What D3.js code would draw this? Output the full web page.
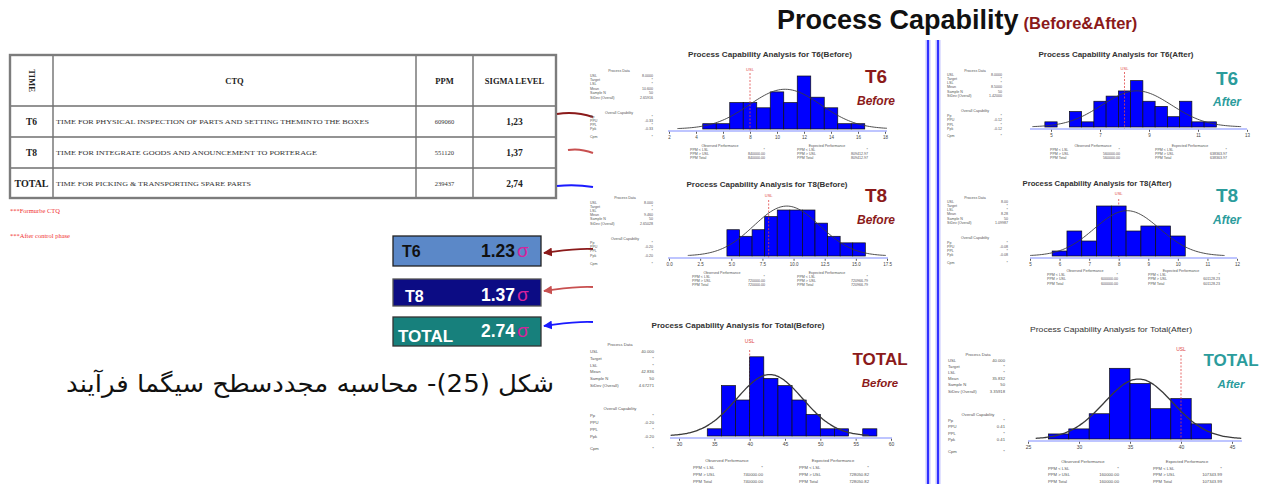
<!DOCTYPE html>
<html>
<head>
<meta charset="utf-8">
<script src="https://cdn.jsdelivr.net/npm/d3@7"></script>
<style>
  body { margin: 0; background: #fff; }
  svg { display: block; }
</style>
</head>
<body>
<svg id="chart" width="1269" height="484"></svg>
<script>
// ---------- table data
const tableIds = ["T6", "T8", "TOTAL"];
const tableCtq = [
  "TIME FOR PHYSICAL INSPECTION OF PARTS AND SETTING THEMINTO THE BOXES",
  "TIME FOR INTEGRATE GOODS AND ANOUNCEMENT TO PORTERAGE",
  "TIME FOR PICKING & TRANSPORTING SPARE PARTS"
];
const tablePpm = ["609060", "551120", "239437"];
const tableSigma = ["1,23", "1,37", "2,74"];
const tableNotes = ["***Formurbe CTQ", "***After control phase"];
const boxSigma = ["1.23", "1.37", "2.74"];

// ---------- histogram data (counts per bin, [first bin start, bin width])
const t6BeforeCounts = [1, 1, 5, 5, 4, 7, 5, 10, 6, 4, 1, 1];
const t6BeforeBins = [4.5, 1];
const t6BeforeTicks = [2, 4, 6, 8, 10, 12, 14, 16, 18];
const t6BeforeStats = [10.6, 2.66, 8];           // mean, sd, USL

const t8BeforeCounts = [4, 3, 4, 6, 7, 7, 7, 5, 3, 2, 2];
const t8BeforeBins = [4.65, 1.01];
const t8BeforeTicks = [0, 2.5, 5, 7.5, 10, 12.5, 15, 17.5];
const t8BeforeStats = [9.46, 2.65, 8];

const totalBeforeCounts = [1, 7, 5, 11, 8, 7, 5, 3, 1, 1, 0, 1];
const totalBeforeBins = [34, 2];
const totalBeforeTicks = [30, 35, 40, 45, 50, 55, 60];
const totalBeforeStats = [42.836, 4.67271, 40];

const t6AfterCounts = [1, 0, 3, 1, 5, 6, 7, 9, 5, 4, 2, 5, 1, 1];
const t6AfterBins = [4.75, 0.5];
const t6AfterTicks = [5, 7, 9, 11, 13];
const t6AfterStats = [8.5, 1.42, 8];

const t8AfterCounts = [1, 5, 3, 10, 10, 5, 6, 6, 4];
const t8AfterBins = [5.75, 0.5];
const t8AfterTicks = [5, 6, 7, 8, 9, 10, 11, 12];
const t8AfterStats = [8.28, 1.1, 8];

const totalAfterCounts = [1, 2, 5, 14, 11, 6, 8, 3];
const totalAfterBins = [27, 2];
const totalAfterTicks = [25, 30, 35, 40, 45];
const totalAfterStats = [35.832, 3.35918, 40];

// ---------- side-panel texts
const processLabels = ["USL", "Target", "LSL", "Mean", "Sample N", "StDev (Overall)"];
const capLabels = ["Pp", "PPU", "PPL", "Ppk"];
const perfLabels = ["PPM < LSL", "PPM > USL", "PPM Total"];

const t6BeforeProcess = ["8.0000", "*", "*", "10.600", "50", "2.65916"];
const t6BeforeCap = ["*", "-0.33", "*", "-0.33"];
const t6BeforeObs = ["*", "840000.00", "840000.00"];
const t6BeforeExp = ["*", "809412.97", "809412.97"];

const t8BeforeProcess = ["8.000", "*", "*", "9.460", "50", "2.65028"];
const t8BeforeCap = ["*", "-0.20", "*", "-0.20"];
const t8BeforeObs = ["*", "720000.00", "720000.00"];
const t8BeforeExp = ["*", "720966.79", "720966.79"];

const totalBeforeProcess = ["40.000", "*", "*", "42.836", "50", "4.67271"];
const totalBeforeCap = ["*", "-0.20", "*", "-0.20"];
const totalBeforeObs = ["*", "740000.00", "740000.00"];
const totalBeforeExp = ["*", "728050.82", "728050.82"];

const t6AfterProcess = ["8.0000", "*", "*", "8.5000", "50", "1.42000"];
const t6AfterCap = ["*", "-0.12", "*", "-0.12"];
const t6AfterObs = ["*", "560000.00", "560000.00"];
const t6AfterExp = ["*", "638363.97", "638363.97"];

const t8AfterProcess = ["8.00", "*", "*", "8.28", "50", "1.09987"];
const t8AfterCap = ["*", "-0.08", "*", "-0.08"];
const t8AfterObs = ["*", "600000.00", "600000.00"];
const t8AfterExp = ["*", "601128.23", "601128.23"];

const totalAfterProcess = ["40.000", "*", "*", "35.832", "50", "3.35918"];
const totalAfterCap = ["*", "0.41", "*", "0.41"];
const totalAfterObs = ["*", "160000.00", "160000.00"];
const totalAfterExp = ["*", "107343.99", "107343.99"];

const W = 1269, H = 484;
const SANS = "'Liberation Sans', Arial, sans-serif";
const SERIF = "'Liberation Serif', 'Times New Roman', serif";
const svg = d3.select("#chart");
svg.append("rect").attr("width", W).attr("height", H).attr("fill", "#fff");

// ---------- main title
const head = svg.append("text").attr("x", 777).attr("y", 29).attr("font-family", SANS).attr("font-weight", "bold");
head.append("tspan").attr("font-size", 27).attr("fill", "#111").text("Process Capability");
head.append("tspan").attr("dx", 5).attr("font-size", 16.5).attr("fill", "#8b1a1a").text("(Before&After)");

// ---------- table
const colX = [10, 53, 416, 473, 556];
const rowY = [55, 106, 137, 168, 198];
const tbl = svg.append("g");
tbl.selectAll("line.v").data(colX.slice(1, 4)).join("line")
  .attr("x1", d => d).attr("x2", d => d).attr("y1", rowY[0]).attr("y2", rowY[4])
  .attr("stroke", "#6f6f6f").attr("stroke-width", 1.4);
tbl.selectAll("line.h").data(rowY.slice(1, 4)).join("line")
  .attr("x1", colX[0]).attr("x2", colX[4]).attr("y1", d => d).attr("y2", d => d)
  .attr("stroke", "#6f6f6f").attr("stroke-width", 1.4);
tbl.append("rect").attr("x", colX[0]).attr("y", rowY[0])
  .attr("width", colX[4] - colX[0]).attr("height", rowY[4] - rowY[0])
  .attr("fill", "none").attr("stroke", "#7c7c7c").attr("stroke-width", 2.4);

const hdrY = (rowY[0] + rowY[1]) / 2;
tbl.append("text").attr("transform", `translate(${(colX[0] + colX[1]) / 2 - 3},${hdrY}) rotate(90)`)
  .attr("text-anchor", "middle").attr("font-family", SERIF).attr("font-weight", "bold")
  .attr("font-size", 8.5).attr("fill", "#222").text("TIME");
[["CTQ", 1], ["PPM", 2], ["SIGMA LEVEL", 3]].forEach(([t, i]) => {
  tbl.append("text").attr("x", (colX[i] + colX[i + 1]) / 2).attr("y", hdrY + 3)
    .attr("text-anchor", "middle").attr("font-family", SERIF).attr("font-weight", "bold")
    .attr("font-size", 8.5).attr("fill", "#222").text(t);
});
const rows = tbl.selectAll("g.row").data(tableIds).join("g")
  .attr("transform", (d, i) => `translate(0,${(rowY[i + 1] + rowY[i + 2]) / 2})`);
rows.append("text").attr("x", (colX[0] + colX[1]) / 2).attr("y", 3.5).attr("text-anchor", "middle")
  .attr("font-family", SERIF).attr("font-weight", "bold")
  .attr("font-size", d => d === "TOTAL" ? 10 : 9.5).attr("fill", "#222").text(d => d);
const ctqWidths = [313, 261, 195];
rows.append("text").attr("x", colX[1] + 3).attr("y", 2.5).attr("font-family", SERIF)
  .attr("font-size", 7).attr("fill", "#333")
  .attr("textLength", (d, i) => ctqWidths[i]).attr("lengthAdjust", "spacingAndGlyphs")
  .text((d, i) => tableCtq[i]);
rows.append("text").attr("x", (colX[2] + colX[3]) / 2).attr("y", 2.5).attr("text-anchor", "middle")
  .attr("font-family", SERIF).attr("font-size", 6.5).attr("fill", "#333").text((d, i) => tablePpm[i]);
rows.append("text").attr("x", (colX[3] + colX[4]) / 2).attr("y", 3.5).attr("text-anchor", "middle")
  .attr("font-family", SERIF).attr("font-weight", "bold").attr("font-size", 9.5).attr("fill", "#222")
  .text((d, i) => tableSigma[i]);

svg.selectAll("text.note").data(tableNotes).join("text")
  .attr("x", 10).attr("y", (d, i) => 213 + i * 25).attr("font-family", SERIF)
  .attr("font-size", 6.5).attr("fill", "#f03030").text(d => d);

// ---------- connectors from the table
const tblLinks = [
  {d: "M557,114 Q575,111 593,117", c: "#8b1a1a"},
  {d: "M568,150 Q580,148 593,153", c: "#c85050"},
  {d: "M557,186 Q575,184 593,187", c: "#1a1aff"}
];
svg.selectAll("path.tl").data(tblLinks).join("path")
  .attr("d", d => d.d).attr("fill", "none").attr("stroke", d => d.c).attr("stroke-width", 2);

// ---------- sigma boxes
const boxFill = ["#5b88c8", "#0c0c84", "#17807c"];
const boxStroke = ["#222", "#555", "#333"];
const boxText = ["#111", "#fff", "#fff"];
const boxY = [236, 279, 317];
const boxH = [30, 27, 29];
const arrowCol = ["#8b1a1a", "#c85050", "#1a1aff"];
const boxes = svg.selectAll("g.box").data(tableIds).join("g")
  .attr("transform", (d, i) => `translate(393,${boxY[i]})`);
boxes.append("rect").attr("width", 148).attr("height", (d, i) => boxH[i])
  .attr("fill", (d, i) => boxFill[i]).attr("stroke", (d, i) => boxStroke[i]).attr("stroke-width", 1.3);
boxes.append("text").attr("x", (d, i) => [9, 12, 5][i]).attr("y", (d, i) => [21, 22.5, 25][i])
  .attr("font-family", SANS).attr("font-weight", "bold").attr("font-size", (d, i) => i === 2 ? 17 : 16)
  .attr("fill", (d, i) => boxText[i]).text(d => d);
boxes.append("text").attr("x", 122).attr("y", (d, i) => [21, 21.5, 20][i]).attr("text-anchor", "end")
  .attr("font-family", SANS).attr("font-weight", "bold").attr("font-size", 17.5)
  .attr("fill", (d, i) => boxText[i]).text((d, i) => boxSigma[i]);
boxes.append("text").attr("x", 124).attr("y", (d, i) => [21, 21.5, 20][i])
  .attr("font-family", SANS).attr("font-size", 19).attr("fill", "#d5239c").text("σ");

const defs = svg.append("defs");
arrowCol.forEach((c, i) => {
  defs.append("marker").attr("id", "ah" + i).attr("viewBox", "0 0 10 10").attr("refX", 9).attr("refY", 5)
    .attr("markerWidth", 5).attr("markerHeight", 5).attr("orient", "auto-start-reverse")
    .append("path").attr("d", "M0,0 L10,5 L0,10 z").attr("fill", c);
});
const arrowY = [249, 287, 322];
svg.selectAll("path.arr").data(arrowY).join("path")
  .attr("d", (d, i) => `M593,${d} C575,${d - 1} 560,${d + 2} 544,${d + 4}`)
  .attr("fill", "none").attr("stroke", (d, i) => arrowCol[i]).attr("stroke-width", 1.8)
  .attr("marker-end", (d, i) => `url(#ah${i})`);

// ---------- Persian caption
svg.append("text").attr("x", 310).attr("y", 392).attr("text-anchor", "middle").attr("direction", "rtl")
  .attr("font-family", "'DejaVu Sans', sans-serif").attr("font-size", 24).attr("fill", "#111")
  .attr("textLength", 488).attr("lengthAdjust", "spacingAndGlyphs")
  .text("شکل (25)- محاسبه مجددسطح سیگما فرآیند");

// ---------- divider between before / after
[928, 938].forEach(x => {
  svg.append("rect").attr("x", x - 2.5).attr("y", 40).attr("width", 5).attr("height", H - 40).attr("fill", "#c4c4ff");
  svg.append("rect").attr("x", x - 1).attr("y", 40).attr("width", 2).attr("height", H - 40).attr("fill", "#3030ff");
});

// ---------- histogram panels
const beforeRed = "#8b1a1a", afterTeal = "#2b9c9c";
const panels = [
  {counts: t6BeforeCounts, bins: t6BeforeBins, ticks: t6BeforeTicks, stats: t6BeforeStats, fmt: d3.format("d"),
   proc: t6BeforeProcess, cap: t6BeforeCap, obs: t6BeforeObs, exp: t6BeforeExp,
   title: "Process Capability Analysis for T6(Before)", name: "T6", phase: "Before", color: beforeRed,
   L: {tx: 770, ty: 57, tw: 164, ts: 7, tb: "bold", ax0: 669, ax1: 885, lx0: 668, lx1: 887, axY: 131, unit: 5.3, tfs: 4.5,
       uslLy: 71, uslTop: 73, uslOnTop: true, ulfs: 4,
       hx: 619, hy: 72, sx: 590, vx: 653, y0: 76.5, dy: 4.4, chy: 113.5, cy0: 117.5, cdy: 4.3, cpm: 138, fs: 3.6,
       oy: 147, ody: 4, ohx: 720, olx: 690, ovx: 765, ehx: 827, elx: 797, evx: 868, pfs: 3.6,
       nx: 876, ny: 83, py: 105, nfs: 19, pfs2: 12}},
  {counts: t8BeforeCounts, bins: t8BeforeBins, ticks: t8BeforeTicks, stats: t8BeforeStats, fmt: d3.format(".1f"),
   proc: t8BeforeProcess, cap: t8BeforeCap, obs: t8BeforeObs, exp: t8BeforeExp,
   title: "Process Capability Analysis for T8(Before)", name: "T8", phase: "Before", color: beforeRed,
   L: {tx: 767, ty: 187, tw: 161, ts: 7, tb: "bold", ax0: 669, ax1: 887, lx0: 668, lx1: 888, axY: 258, unit: 6.57, tfs: 4.5,
       uslLy: 197, uslTop: 200, uslOnTop: true, ulfs: 4,
       hx: 625, hy: 199, sx: 590, vx: 653, y0: 203.5, dy: 4.2, chy: 240, cy0: 243.5, cdy: 4.4, cpm: 264.5, fs: 3.6,
       oy: 273.5, ody: 4.2, ohx: 722, olx: 692, ovx: 765, ehx: 827, elx: 797, evx: 868, pfs: 3.6,
       nx: 876, ny: 201.5, py: 224, nfs: 19, pfs2: 12}},
  {counts: totalBeforeCounts, bins: totalBeforeBins, ticks: totalBeforeTicks, stats: totalBeforeStats, fmt: d3.format("d"),
   proc: totalBeforeProcess, cap: totalBeforeCap, obs: totalBeforeObs, exp: totalBeforeExp,
   title: "Process Capability Analysis for Total(Before)", name: "TOTAL", phase: "Before", color: beforeRed,
   L: {tx: 738, ty: 328, tw: 173, ts: 8, tb: "bold", ax0: 679, ax1: 891, lx0: 670, lx1: 892, axY: 438, unit: 7.2, tfs: 5,
       uslLy: 343, uslTop: 350, uslOnTop: false, ulfs: 5,
       hx: 620, hy: 346, sx: 590, vx: 654, y0: 353, dy: 6.8, chy: 410, cy0: 417, cdy: 7, cpm: 450, fs: 4.2,
       oy: 462, ody: 7, ohx: 727, olx: 693, ovx: 763, ehx: 833, elx: 799, evx: 869, pfs: 4.2,
       nx: 880, ny: 365, py: 387, nfs: 17, pfs2: 11.5}},
  {counts: t6AfterCounts, bins: t6AfterBins, ticks: t6AfterTicks, stats: t6AfterStats, fmt: d3.format("d"),
   proc: t6AfterProcess, cap: t6AfterCap, obs: t6AfterObs, exp: t6AfterExp,
   title: "Process Capability Analysis for T6(After)", name: "T6", phase: "After", color: afterTeal,
   L: {tx: 1116, ty: 56.5, tw: 155, ts: 6.8, tb: "bold", ax0: 1051, ax1: 1247, lx0: 1030, lx1: 1247, axY: 129, unit: 5.15, tfs: 4.5,
       uslLy: 69.5, uslTop: 72, uslOnTop: true, ulfs: 4,
       hx: 975, hy: 72, sx: 947, vx: 1002, y0: 75.5, dy: 4.3, chy: 112, cy0: 117, cdy: 4.3, cpm: 137, fs: 3.6,
       oy: 146.5, ody: 4.1, ohx: 1093, olx: 1050, ovx: 1120, ehx: 1190, elx: 1155, evx: 1227, pfs: 3.6,
       nx: 1227, ny: 85, py: 106, nfs: 19, pfs2: 12}},
  {counts: t8AfterCounts, bins: t8AfterBins, ticks: t8AfterTicks, stats: t8AfterStats, fmt: d3.format("d"),
   proc: t8AfterProcess, cap: t8AfterCap, obs: t8AfterObs, exp: t8AfterExp,
   title: "Process Capability Analysis for T8(After)", name: "T8", phase: "After", color: afterTeal,
   L: {tx: 1097, ty: 185.5, tw: 149, ts: 6.8, tb: "bold", ax0: 1030, ax1: 1237, lx0: 1030, lx1: 1237, axY: 258, unit: 5, tfs: 4.5,
       uslLy: 195, uslTop: 199, uslOnTop: false, ulfs: 4,
       hx: 975, hy: 198.5, sx: 947, vx: 1008, y0: 202.5, dy: 4.3, chy: 238.5, cy0: 243.5, cdy: 4.3, cpm: 264, fs: 3.6,
       oy: 272, ody: 4.2, ohx: 1085, olx: 1047, ovx: 1118, ehx: 1181, elx: 1148, evx: 1220, pfs: 3.6,
       nx: 1227, ny: 202, py: 224, nfs: 19, pfs2: 12}},
  {counts: totalAfterCounts, bins: totalAfterBins, ticks: totalAfterTicks, stats: totalAfterStats, fmt: d3.format("d"),
   proc: totalAfterProcess, cap: totalAfterCap, obs: totalAfterObs, exp: totalAfterExp,
   title: "Process Capability Analysis for Total(After)", name: "TOTAL", phase: "After", color: afterTeal,
   L: {tx: 1111, ty: 332, tw: 162, ts: 8, tb: "normal", ax0: 1028, ax1: 1232, lx0: 1028, lx1: 1242, axY: 441, unit: 5.05, tfs: 5,
       uslLy: 351, uslTop: 355, uslOnTop: true, ulfs: 5,
       hx: 978, hy: 355.5, sx: 948, vx: 1005, y0: 361.5, dy: 6.2, chy: 415.5, cy0: 422, cdy: 6.3, cpm: 452.5, fs: 4.2,
       oy: 463, ody: 6.7, ohx: 1083, olx: 1048, ovx: 1119, ehx: 1187, elx: 1153, evx: 1222, pfs: 4.2,
       nx: 1231, ny: 366, py: 388, nfs: 17, pfs2: 11.5}}
];

function smallText(g, x, y, t, fs, anchor) {
  g.append("text").attr("x", x).attr("y", y).attr("font-family", SANS).attr("font-size", fs)
    .attr("fill", "#555").attr("text-anchor", anchor || "start").text(t);
}

function drawPanel(p) {
  const L = p.L;
  const g = svg.append("g");
  const [mean, sd, usl] = p.stats;
  const [start, bw] = p.bins;
  const n = d3.sum(p.counts);
  const x = d3.scaleLinear().domain([p.ticks[0], p.ticks[p.ticks.length - 1]]).range([L.ax0, L.ax1]);
  const base = L.axY - 2;
  const y = d3.scaleLinear().domain([0, 1]).range([base, base - L.unit]);

  // title
  g.append("text").attr("x", L.tx).attr("y", L.ty).attr("text-anchor", "middle")
    .attr("font-family", SANS).attr("font-weight", L.tb).attr("font-size", L.ts).attr("fill", "#333")
    .attr("textLength", L.tw).attr("lengthAdjust", "spacingAndGlyphs").text(p.title);

  // USL marker
  g.append("text").attr("x", x(usl)).attr("y", L.uslLy).attr("text-anchor", "middle")
    .attr("font-family", SANS).attr("font-size", L.ulfs).attr("fill", "#e04848").text("USL");
  const drawUslLine = () => g.append("line").attr("x1", x(usl)).attr("x2", x(usl))
    .attr("y1", L.uslTop).attr("y2", L.axY).attr("stroke", "#e04848").attr("stroke-width", 0.8)
    .attr("stroke-dasharray", "2,1.5");
  if (!L.uslOnTop) drawUslLine();

  // bars
  const bins = p.counts.map((c, i) => ({x0: start + i * bw, x1: start + (i + 1) * bw, c}));
  g.selectAll("rect.bar").data(bins.filter(b => b.c > 0)).join("rect")
    .attr("x", d => x(d.x0)).attr("width", d => x(d.x1) - x(d.x0))
    .attr("y", d => y(d.c)).attr("height", d => y(0) - y(d.c))
    .attr("fill", "#0000ff").attr("stroke", "#101010").attr("stroke-width", 0.7);

  if (L.uslOnTop) drawUslLine();

  // fitted normal curve
  const lo = Math.max(mean - 3 * sd, x.invert(L.lx0));
  const hi = Math.min(mean + 3 * sd, x.invert(L.lx1));
  const pts = d3.range(lo, hi, (hi - lo) / 120).concat([hi]);
  const dens = v => n * bw * Math.exp(-0.5 * ((v - mean) / sd) ** 2) / (sd * Math.sqrt(2 * Math.PI));
  g.append("path").datum(pts).attr("fill", "none").attr("stroke", "#3a3a3a")
    .attr("stroke-width", L.tfs > 4.5 ? 1.3 : 0.9)
    .attr("d", d3.line().x(v => x(v)).y(v => y(dens(v))).curve(d3.curveBasis));

  // axis
  g.append("line").attr("x1", L.lx0).attr("x2", L.lx1).attr("y1", L.axY).attr("y2", L.axY)
    .attr("stroke", "#a8b2ff").attr("stroke-width", 1.6);
  const ax = g.append("g").attr("transform", `translate(0,${L.axY + 0.8})`)
    .call(d3.axisBottom(x).tickValues(p.ticks).tickFormat(p.fmt).tickSize(2).tickSizeOuter(0).tickPadding(2));
  ax.select(".domain").remove();
  ax.selectAll(".tick line").attr("stroke", "#333").attr("stroke-width", 0.8);
  ax.selectAll(".tick text").attr("font-family", SANS).attr("font-size", L.tfs).attr("fill", "#444");

  // process data / capability block
  smallText(g, L.hx, L.hy, "Process Data", L.fs, "middle");
  processLabels.forEach((t, i) => {
    smallText(g, L.sx, L.y0 + i * L.dy, t, L.fs);
    smallText(g, L.vx, L.y0 + i * L.dy, p.proc[i], L.fs, "end");
  });
  smallText(g, L.hx, L.chy, "Overall Capability", L.fs, "middle");
  capLabels.forEach((t, i) => {
    smallText(g, L.sx, L.cy0 + i * L.cdy, t, L.fs);
    smallText(g, L.vx, L.cy0 + i * L.cdy, p.cap[i], L.fs, "end");
  });
  smallText(g, L.sx, L.cpm, "Cpm", L.fs);
  smallText(g, L.vx, L.cpm, "*", L.fs, "end");

  // performance blocks
  smallText(g, L.ohx, L.oy, "Observed Performance", L.pfs, "middle");
  smallText(g, L.ehx, L.oy, "Expected Performance", L.pfs, "middle");
  perfLabels.forEach((t, i) => {
    const yy = L.oy + (i + 1) * L.ody;
    smallText(g, L.olx, yy, t, L.pfs);
    smallText(g, L.ovx, yy, p.obs[i], L.pfs, "end");
    smallText(g, L.elx, yy, t, L.pfs);
    smallText(g, L.evx, yy, p.exp[i], L.pfs, "end");
  });

  // big panel label
  g.append("text").attr("x", L.nx).attr("y", L.ny).attr("text-anchor", "middle")
    .attr("font-family", SANS).attr("font-weight", "bold").attr("font-size", L.nfs)
    .attr("fill", p.color).text(p.name);
  g.append("text").attr("x", L.nx).attr("y", L.py).attr("text-anchor", "middle")
    .attr("font-family", SANS).attr("font-weight", "bold").attr("font-style", "italic")
    .attr("font-size", L.pfs2).attr("fill", p.color).text(p.phase);
}

panels.forEach(drawPanel);
</script>
</body>
</html>
